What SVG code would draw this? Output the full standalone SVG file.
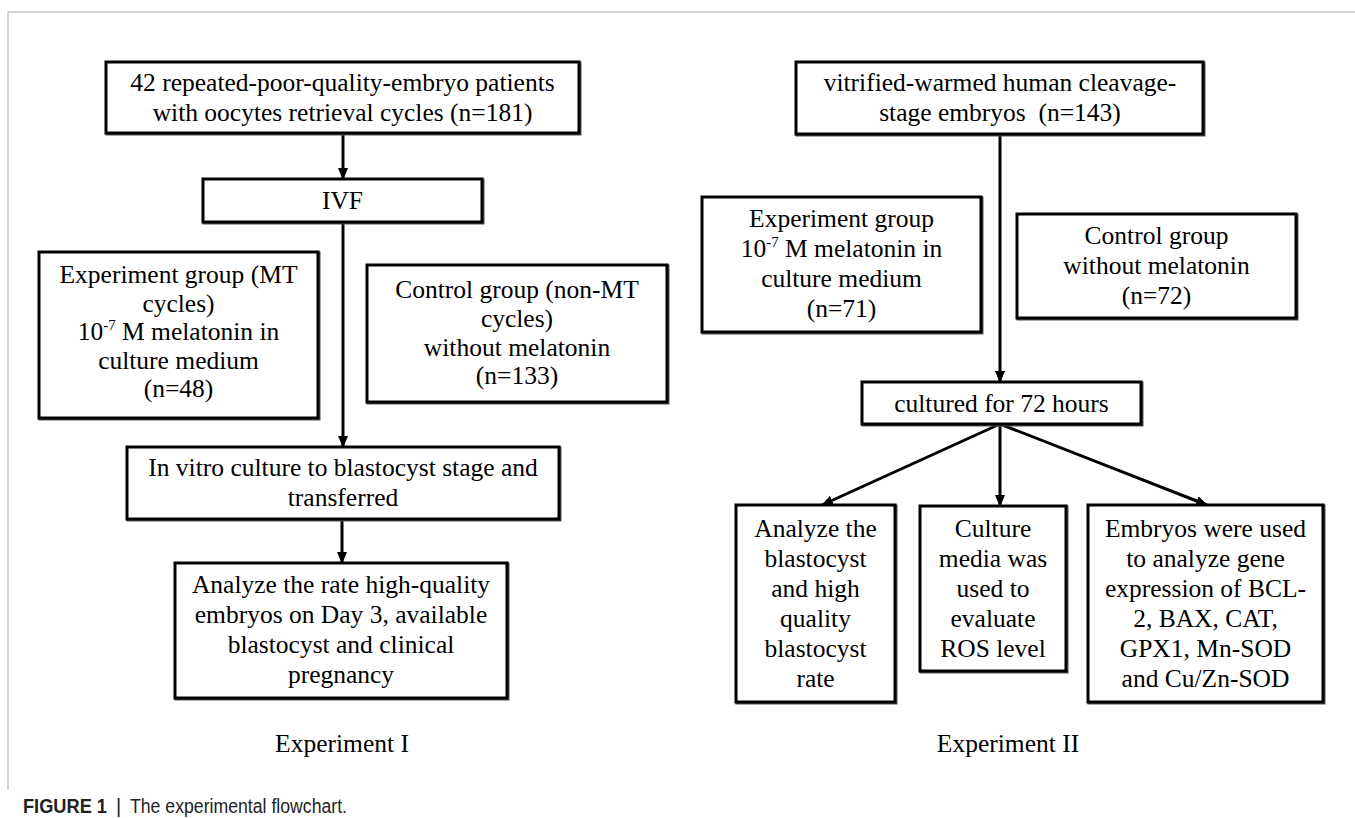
<svg xmlns="http://www.w3.org/2000/svg" width="1355" height="818" viewBox="0 0 1355 818">
<style>
.bx{fill:#fff;stroke:#000;stroke-width:3}
.sh{fill:none;stroke:#555;stroke-width:3}
.t{font-family:"Liberation Serif","Times New Roman",serif;font-size:25.5px;fill:#000;text-anchor:middle}
.sup{font-size:15px}
.c{fill:none;stroke:#000;stroke-width:3}
.cap{font-family:"Liberation Sans",Arial,sans-serif;font-size:20px;fill:#222}
</style>
<defs>
<marker id="ah" markerUnits="userSpaceOnUse" markerWidth="12" markerHeight="10" refX="11" refY="5" orient="auto">
<path d="M0,0 L12,5 L0,10 z" fill="#000"/>
</marker>
</defs>
<rect width="1355" height="818" fill="#fff"/>
<path d="M8,790 V12 H1355" fill="none" stroke="#c4c4c4" stroke-width="1.5"/>

<g id="connectors">
<line class="c" x1="343" y1="133" x2="343" y2="179" marker-end="url(#ah)"/>
<line class="c" x1="343" y1="222" x2="343" y2="447" marker-end="url(#ah)"/>
<line class="c" x1="342" y1="519" x2="342" y2="563" marker-end="url(#ah)"/>
<line class="c" x1="1000" y1="134" x2="1000" y2="382" marker-end="url(#ah)"/>
<line class="c" x1="1000" y1="424" x2="822" y2="505" marker-end="url(#ah)"/>
<line class="c" x1="1000" y1="424" x2="1000" y2="506" marker-end="url(#ah)"/>
<line class="c" x1="1000" y1="424" x2="1207" y2="505" marker-end="url(#ah)"/>
</g>

<g id="n-patients">
<rect class="sh" x="107" y="63" width="473" height="71"/>
<rect class="bx" x="106" y="62" width="473" height="71"/>
<text class="t" x="342.5" y="91">42 repeated-poor-quality-embryo patients</text>
<text class="t" x="342.5" y="121">with oocytes retrieval cycles (n=181)</text>
</g>

<g id="n-ivf">
<rect class="sh" x="204" y="180" width="279" height="43"/>
<rect class="bx" x="203" y="179" width="279" height="43"/>
<text class="t" x="342.5" y="209">IVF</text>
</g>

<g id="n-exp1">
<rect class="sh" x="40" y="253" width="279" height="166"/>
<rect class="bx" x="39" y="252" width="279" height="166"/>
<text class="t" x="178.5" y="283">Experiment group (MT</text>
<text class="t" x="178.5" y="311.5">cycles)</text>
<text class="t" x="178.5" y="340">10<tspan class="sup" dy="-10">-7</tspan><tspan dy="10"> M melatonin in</tspan></text>
<text class="t" x="178.5" y="368.5">culture medium</text>
<text class="t" x="178.5" y="397">(n=48)</text>
</g>

<g id="n-ctrl1">
<rect class="sh" x="368" y="266" width="300" height="137"/>
<rect class="bx" x="367" y="265" width="300" height="137"/>
<text class="t" x="517" y="298">Control group (non-MT</text>
<text class="t" x="517" y="327">cycles)</text>
<text class="t" x="517" y="355.5">without melatonin</text>
<text class="t" x="517" y="384">(n=133)</text>
</g>

<g id="n-invitro">
<rect class="sh" x="128" y="448" width="432" height="72"/>
<rect class="bx" x="127" y="447" width="432" height="72"/>
<text class="t" x="343" y="476">In vitro culture to blastocyst stage and</text>
<text class="t" x="343" y="506">transferred</text>
</g>

<g id="n-analyze1">
<rect class="sh" x="176" y="564" width="332" height="135"/>
<rect class="bx" x="175" y="563" width="332" height="135"/>
<text class="t" x="341" y="593">Analyze the rate high-quality</text>
<text class="t" x="341" y="623">embryos on Day 3, available</text>
<text class="t" x="341" y="653">blastocyst and clinical</text>
<text class="t" x="341" y="683">pregnancy</text>
</g>

<text class="t" x="342" y="752">Experiment I</text>

<g id="n-embryos">
<rect class="sh" x="797" y="63" width="407" height="72"/>
<rect class="bx" x="796" y="62" width="407" height="72"/>
<text class="t" x="1000" y="91">vitrified-warmed human cleavage-</text>
<text class="t" x="1000" y="121" xml:space="preserve">stage embryos  (n=143)</text>
</g>

<g id="n-exp2">
<rect class="sh" x="703" y="198" width="279" height="135"/>
<rect class="bx" x="702" y="197" width="279" height="135"/>
<text class="t" x="841.5" y="227">Experiment group</text>
<text class="t" x="841.5" y="257">10<tspan class="sup" dy="-10">-7</tspan><tspan dy="10"> M melatonin in</tspan></text>
<text class="t" x="841.5" y="287">culture medium</text>
<text class="t" x="841.5" y="317">(n=71)</text>
</g>

<g id="n-ctrl2">
<rect class="sh" x="1018" y="215" width="279" height="104"/>
<rect class="bx" x="1017" y="214" width="279" height="104"/>
<text class="t" x="1156.5" y="244">Control group</text>
<text class="t" x="1156.5" y="274">without melatonin</text>
<text class="t" x="1156.5" y="304">(n=72)</text>
</g>

<g id="n-cultured">
<rect class="sh" x="863" y="383" width="279" height="42"/>
<rect class="bx" x="862" y="382" width="279" height="42"/>
<text class="t" x="1001.5" y="412">cultured for 72 hours</text>
</g>

<g id="n-blast">
<rect class="sh" x="737" y="506" width="159" height="197"/>
<rect class="bx" x="736" y="505" width="159" height="197"/>
<text class="t" x="815.5" y="536.5">Analyze the</text>
<text class="t" x="815.5" y="566.5">blastocyst</text>
<text class="t" x="815.5" y="596.5">and high</text>
<text class="t" x="815.5" y="626.5">quality</text>
<text class="t" x="815.5" y="656.5">blastocyst</text>
<text class="t" x="815.5" y="686.5">rate</text>
</g>

<g id="n-ros">
<rect class="sh" x="921" y="507" width="146" height="165"/>
<rect class="bx" x="920" y="506" width="146" height="165"/>
<text class="t" x="993" y="536.5">Culture</text>
<text class="t" x="993" y="566.5">media was</text>
<text class="t" x="993" y="596.5">used to</text>
<text class="t" x="993" y="626.5">evaluate</text>
<text class="t" x="993" y="656.5">ROS level</text>
</g>

<g id="n-gene">
<rect class="sh" x="1089" y="506" width="235" height="197"/>
<rect class="bx" x="1088" y="505" width="235" height="197"/>
<text class="t" x="1205.5" y="536.5">Embryos were used</text>
<text class="t" x="1205.5" y="566.5">to analyze gene</text>
<text class="t" x="1205.5" y="596.5">expression of BCL-</text>
<text class="t" x="1205.5" y="626.5">2, BAX, CAT,</text>
<text class="t" x="1205.5" y="656.5">GPX1, Mn-SOD</text>
<text class="t" x="1205.5" y="686.5">and Cu/Zn-SOD</text>
</g>

<text class="t" x="1008" y="752">Experiment II</text>

<text class="cap" x="23" y="813" font-weight="bold" textLength="84" lengthAdjust="spacingAndGlyphs">FIGURE 1</text>
<text class="cap" x="116" y="813" fill="#999" font-weight="normal">|</text>
<text class="cap" x="130" y="813" textLength="217" lengthAdjust="spacingAndGlyphs">The experimental flowchart.</text>
</svg>
